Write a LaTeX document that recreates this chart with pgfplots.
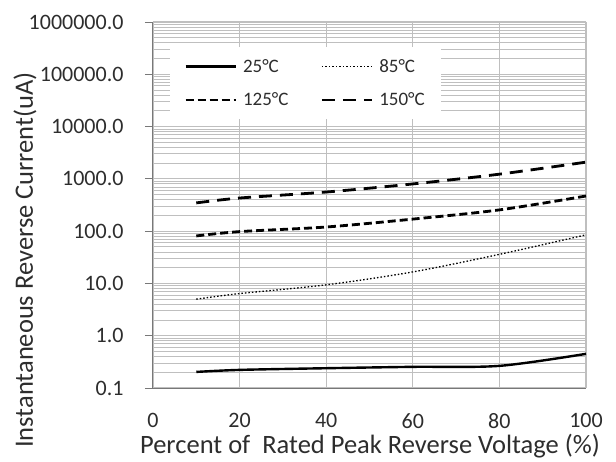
\documentclass[border=0pt]{standalone}
\usepackage{pgfplots}
\pgfplotsset{compat=1.18}
\usepackage{fontspec}
\setmainfont{Carlito}
\definecolor{txt}{RGB}{45,45,45}
\definecolor{grid}{RGB}{205,205,205}
\definecolor{axl}{RGB}{120,120,120}
\begin{document}
\begin{tikzpicture}
\useasboundingbox (-153pt,-73pt) rectangle (463pt,388pt);
\begin{axis}[
  at={(0pt,0pt)}, anchor=south west,
  scale only axis, width=433pt, height=366pt,
  ymode=log, log basis y=10,
  xmin=0, xmax=100, ymin=0.1, ymax=1000000,
  xtick={0,20,40,60,80,100},
  ytick={0.1,1,10,100,1000,10000,100000,1000000},
  yticklabels={0.1,1.0,10.0,100.0,1000.0,10000.0,100000.0,1000000.0},
  minor ytick={0.2,0.3,0.4,0.5,0.6,0.7,0.8,0.9,2,3,4,5,6,7,8,9,20,30,40,50,60,70,80,90,200,300,400,500,600,700,800,900,2000,3000,4000,5000,6000,7000,8000,9000,20000,30000,40000,50000,60000,70000,80000,90000,200000,300000,400000,500000,600000,700000,800000,900000},
  ymajorgrids, yminorgrids, xmajorgrids,
  major grid style={grid, line width=1.2pt},
  minor grid style={grid, line width=0.9pt},
  axis lines*=left,
  axis line style={axl, line width=1pt, -},
  tick style={axl, line width=1pt},
  xtick style={draw=none},
  minor tick length=0pt,
  tick align=outside,
  major tick length=8pt,
  /pgf/number format/assume math mode=true,
  ticklabel style={font=\fontsize{22}{22}\selectfont, text=txt},
  yticklabel style={xshift=-18pt},
  xticklabel style={yshift=-14pt},
  xlabel={Percent of \ Rated Peak Reverse Voltage (\%)},
  ylabel={Instantaneous Reverse Current(uA)},
  label style={font=\fontsize{26.5}{26.5}\selectfont, text=txt},
  xlabel style={at={(axis description cs:0.501,-0.1585)}, anchor=center},
  ylabel style={at={(axis description cs:-0.2956,0.3497)}, anchor=center},
  legend style={at={(axis description cs:0.0393,0.9317)}, anchor=north west, draw=none, fill=white,
    font=\fontsize{19}{19}\selectfont, text=txt, inner xsep=14pt, inner ysep=10pt,
    row sep=15pt, column sep=4pt,
    /tikz/every even column/.append style={column sep=30pt}},
  legend columns=2,
  legend cell align=left,
  legend image code/.code={\draw[#1] (0pt,0pt) -- (50pt,0pt);},
  clip=false,
]
\addplot[black, line width=2.4pt, smooth] coordinates {(10,0.203) (20,0.222) (40,0.239) (60,0.254) (80,0.265) (100,0.45)};
\addlegendentry{25°C}
\addplot[black, line width=1.3pt, dash pattern=on 1.5pt off 2pt, smooth] coordinates {(10,5.0) (20,6.4) (40,9.4) (60,16.6) (80,36) (100,85)};
\addlegendentry{85°C}
\addplot[black, line width=2.8pt, dash pattern=on 8pt off 4pt, smooth] coordinates {(10,81) (20,98) (40,120) (60,170) (80,255) (100,470)};
\addlegendentry{125°C}
\addplot[black, line width=2.8pt, dash pattern=on 13pt off 8pt, smooth] coordinates {(10,347) (20,430) (40,560) (60,800) (80,1230) (100,2090)};
\addlegendentry{150°C}
\end{axis}
\end{tikzpicture}
\end{document}
